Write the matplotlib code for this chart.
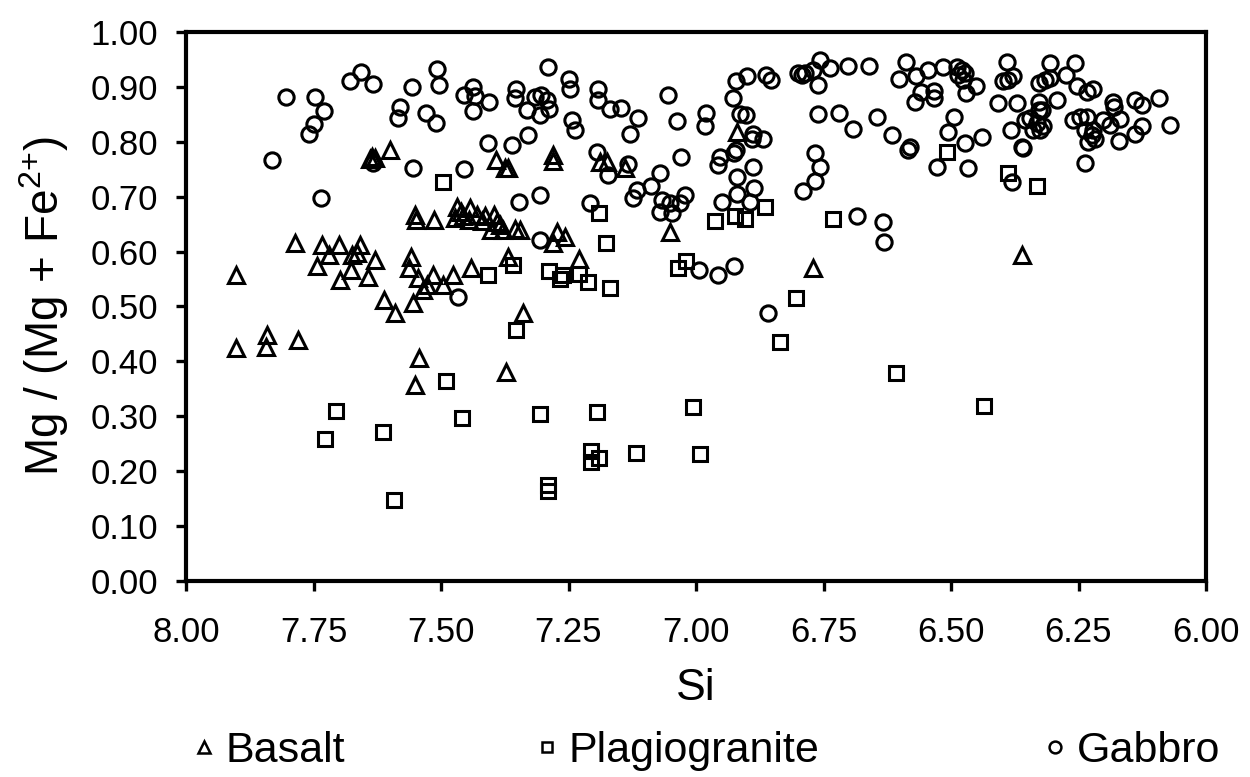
import matplotlib
matplotlib.use("Agg")
import matplotlib.pyplot as plt
from matplotlib.lines import Line2D

plt.rcParams['font.family'] = ['Liberation Sans', 'DejaVu Sans']
plt.rcParams['mathtext.fontset'] = 'custom'
plt.rcParams['mathtext.rm'] = 'Liberation Sans'
plt.rcParams['mathtext.default'] = 'regular'

basalt_si = [7.902, 7.636, 7.640, 7.630, 7.600, 7.392, 7.375, 7.368, 7.551, 7.549, 7.514,
             7.469, 7.443, 7.473, 7.456, 7.430, 7.414, 7.397, 7.391, 7.401, 7.378, 7.355, 7.446,
             7.460, 7.420, 7.385, 7.345,
             7.786, 7.733, 7.700, 7.719, 7.744, 7.659, 7.665, 7.675, 7.629, 7.676, 7.698, 7.643,
             7.559, 7.562, 7.545, 7.516, 7.476, 7.442, 7.497, 7.528, 7.535, 7.612, 7.554, 7.590,
             7.368, 7.340,
             7.901, 7.842, 7.843, 7.780, 7.543, 7.551, 7.373,
             7.280, 7.280, 7.188, 7.175, 7.139, 6.920, 7.273, 7.257, 7.281, 7.051, 7.229, 6.771,
             6.361]
basalt_mg = [0.557, 0.773, 0.768, 0.770, 0.785, 0.767, 0.752, 0.752, 0.667, 0.658, 0.658,
             0.682, 0.679, 0.661, 0.664, 0.667, 0.664, 0.667, 0.654, 0.639, 0.639, 0.642, 0.658,
             0.672, 0.655, 0.648, 0.639,
             0.615, 0.612, 0.612, 0.594, 0.573, 0.612, 0.597, 0.594, 0.585, 0.566, 0.548, 0.554,
             0.591, 0.571, 0.551, 0.557, 0.557, 0.570, 0.539, 0.539, 0.530, 0.512, 0.506, 0.488,
             0.591, 0.489,
             0.424, 0.448, 0.427, 0.439, 0.407, 0.357, 0.381,
             0.776, 0.765, 0.764, 0.764, 0.752, 0.818, 0.636, 0.627, 0.615, 0.636, 0.586, 0.570,
             0.594]

plagio_si = [7.497, 7.407, 7.359, 7.705, 7.727, 7.613, 7.592, 7.490, 7.459, 7.352,
             7.190, 7.176, 6.963, 6.924, 6.904, 6.865, 6.732, 7.288, 7.267, 7.260, 7.229, 7.211,
             7.169, 7.036, 7.020, 6.804,
             6.835, 7.305, 7.194, 7.005, 7.206, 7.190, 7.206, 7.118, 6.992, 7.291, 7.291,
             6.507, 6.388, 6.332, 6.608, 6.435]
plagio_mg = [0.726, 0.557, 0.576, 0.310, 0.258, 0.271, 0.148, 0.365, 0.297, 0.458,
             0.670, 0.616, 0.656, 0.664, 0.659, 0.681, 0.659, 0.565, 0.550, 0.557, 0.560, 0.545,
             0.533, 0.570, 0.582, 0.515,
             0.436, 0.305, 0.307, 0.316, 0.236, 0.224, 0.217, 0.233, 0.231, 0.175, 0.163,
             0.782, 0.743, 0.719, 0.379, 0.319]

gabbro_si = [7.804, 7.747, 7.729, 7.750, 7.758, 7.678, 7.657, 7.633, 7.557, 7.507, 7.503,
             7.580, 7.584, 7.529, 7.510, 7.437, 7.455, 7.433, 7.405, 7.437, 7.353, 7.355, 7.407,
             7.361, 7.832, 7.633, 7.554, 7.455, 7.735, 7.348, 7.466,
             7.291, 7.316, 7.303, 7.293, 7.288, 7.306, 7.332, 7.250, 7.247, 7.244, 7.237, 7.192,
             7.192, 7.169, 7.148, 7.113, 7.129, 7.329, 7.195, 7.133, 7.172, 7.071, 7.089, 7.116,
             7.123, 7.054, 7.038, 7.029, 6.980, 6.982, 7.067, 7.051, 7.031, 7.022, 7.071, 7.048,
             7.306, 7.208, 7.306, 6.994, 6.956, 6.925, 6.858, 6.922, 6.900, 6.927, 6.862, 6.852,
             6.914, 6.901, 6.888, 6.868, 6.891, 6.922, 6.925, 6.953, 6.956, 6.889, 6.920, 6.886,
             6.919, 6.950, 6.894, 6.800, 6.793, 6.786, 6.757, 6.760, 6.737, 6.701, 6.770, 6.760,
             6.719, 6.692, 6.767, 6.756, 6.767, 6.790, 6.685,
             6.660, 6.588, 6.601, 6.569, 6.546, 6.515, 6.489, 6.479, 6.473, 6.486, 6.476, 6.451,
             6.471, 6.558, 6.533, 6.533, 6.571, 6.645, 6.616, 6.580, 6.584, 6.494, 6.505, 6.473,
             6.440, 6.528, 6.466, 6.391, 6.398, 6.388, 6.378, 6.407, 6.371, 6.383, 6.361, 6.345,
             6.332, 6.325, 6.339, 6.319, 6.328, 6.355, 6.328, 6.293, 6.322, 6.305, 6.327, 6.316,
             6.306, 6.274, 6.257, 6.252, 6.234, 6.222, 6.182, 6.180, 6.139, 6.126, 6.093, 6.071,
             6.260, 6.247, 6.234, 6.237, 6.224, 6.231, 6.218, 6.221, 6.201, 6.188, 6.169, 6.170,
             6.139, 6.126, 6.237, 6.358, 6.381, 6.633, 6.631]
gabbro_mg = [0.881, 0.881, 0.857, 0.832, 0.815, 0.911, 0.928, 0.906, 0.900, 0.932, 0.903,
             0.863, 0.844, 0.852, 0.834, 0.900, 0.885, 0.883, 0.873, 0.857, 0.897, 0.879, 0.798,
             0.795, 0.767, 0.761, 0.753, 0.750, 0.698, 0.691, 0.517,
             0.936, 0.881, 0.885, 0.876, 0.859, 0.849, 0.858, 0.914, 0.896, 0.840, 0.822, 0.896,
             0.876, 0.859, 0.861, 0.843, 0.815, 0.812, 0.782, 0.760, 0.740, 0.743, 0.720, 0.712,
             0.697, 0.885, 0.838, 0.772, 0.853, 0.829, 0.694, 0.688, 0.688, 0.703, 0.673, 0.670,
             0.704, 0.689, 0.622, 0.566, 0.557, 0.574, 0.489, 0.910, 0.920, 0.879, 0.922, 0.913,
             0.850, 0.849, 0.815, 0.806, 0.806, 0.785, 0.780, 0.773, 0.758, 0.754, 0.735, 0.715,
             0.705, 0.691, 0.691, 0.925, 0.922, 0.925, 0.949, 0.903, 0.934, 0.938, 0.930, 0.850,
             0.853, 0.824, 0.779, 0.755, 0.729, 0.711, 0.664,
             0.938, 0.946, 0.914, 0.919, 0.931, 0.937, 0.937, 0.931, 0.925, 0.922, 0.913, 0.902,
             0.888, 0.891, 0.893, 0.879, 0.873, 0.846, 0.812, 0.791, 0.785, 0.845, 0.818, 0.797,
             0.809, 0.755, 0.752, 0.946, 0.910, 0.913, 0.919, 0.870, 0.870, 0.822, 0.791, 0.843,
             0.834, 0.822, 0.822, 0.828, 0.858, 0.840, 0.873, 0.876, 0.858, 0.944, 0.908, 0.913,
             0.917, 0.922, 0.943, 0.902, 0.891, 0.896, 0.873, 0.863, 0.876, 0.867, 0.879, 0.831,
             0.840, 0.846, 0.846, 0.822, 0.812, 0.800, 0.806, 0.822, 0.840, 0.831, 0.841, 0.802,
             0.815, 0.829, 0.762, 0.788, 0.727, 0.654, 0.618]

x_ticks = [8.00, 7.75, 7.50, 7.25, 7.00, 6.75, 6.50, 6.25, 6.00]
y_ticks = [0.0, 0.1, 0.2, 0.3, 0.4, 0.5, 0.6, 0.7, 0.8, 0.9, 1.0]
legend_labels = ['Basalt', 'Plagiogranite', 'Gabbro']

fig = plt.figure(figsize=(12.5, 7.77), dpi=100)
ax = fig.add_axes([0.1488, 0.2523, 0.816, 0.7065])

mk = dict(linestyle='none', markerfacecolor='none', markeredgecolor='black',
          markeredgewidth=2.2)
ax.plot(basalt_si, basalt_mg, marker='^', markersize=11.5, **mk)
ax.plot(plagio_si, plagio_mg, marker='s', markersize=10.5, **mk)
ax.plot(gabbro_si, gabbro_mg, marker='o', markersize=11, **mk)

ax.set_xlim(8.0, 6.0)
ax.set_ylim(0.0, 1.0)
ax.set_xticks(x_ticks)
ax.set_xticklabels([f"{v:.2f}" for v in x_ticks])
ax.set_yticks(y_ticks)
ax.set_yticklabels([f"{v:.2f}" for v in y_ticks])
ax.tick_params(direction='out', length=7, width=2.4, labelsize=25)
ax.tick_params(axis='x', pad=18)
ax.tick_params(axis='y', pad=13)
for s in ax.spines.values():
    s.set_linewidth(3.0)

ax.set_xlabel('Si', fontsize=32, labelpad=14)
ax.set_ylabel(r'Mg / (Mg + Fe$^{2{+}}$)', fontsize=33, labelpad=14)

markers = ['^', 's', 'o']
msizes = [8, 7.5, 8.5]
anchors = [0.158, 0.4325, 0.839]
for m, ms, lab, xa in zip(markers, msizes, legend_labels, anchors):
    h = Line2D([], [], marker=m, markersize=ms, linestyle='none', markerfacecolor='none',
               markeredgecolor='black', markeredgewidth=1.8)
    fig.legend([h], [lab], loc='center left', bbox_to_anchor=(xa, 0.034),
               frameon=False, fontsize=31, handlelength=0.3, handletextpad=0.35,
               borderpad=0, borderaxespad=0)

fig.savefig('out.png', dpi=100)
